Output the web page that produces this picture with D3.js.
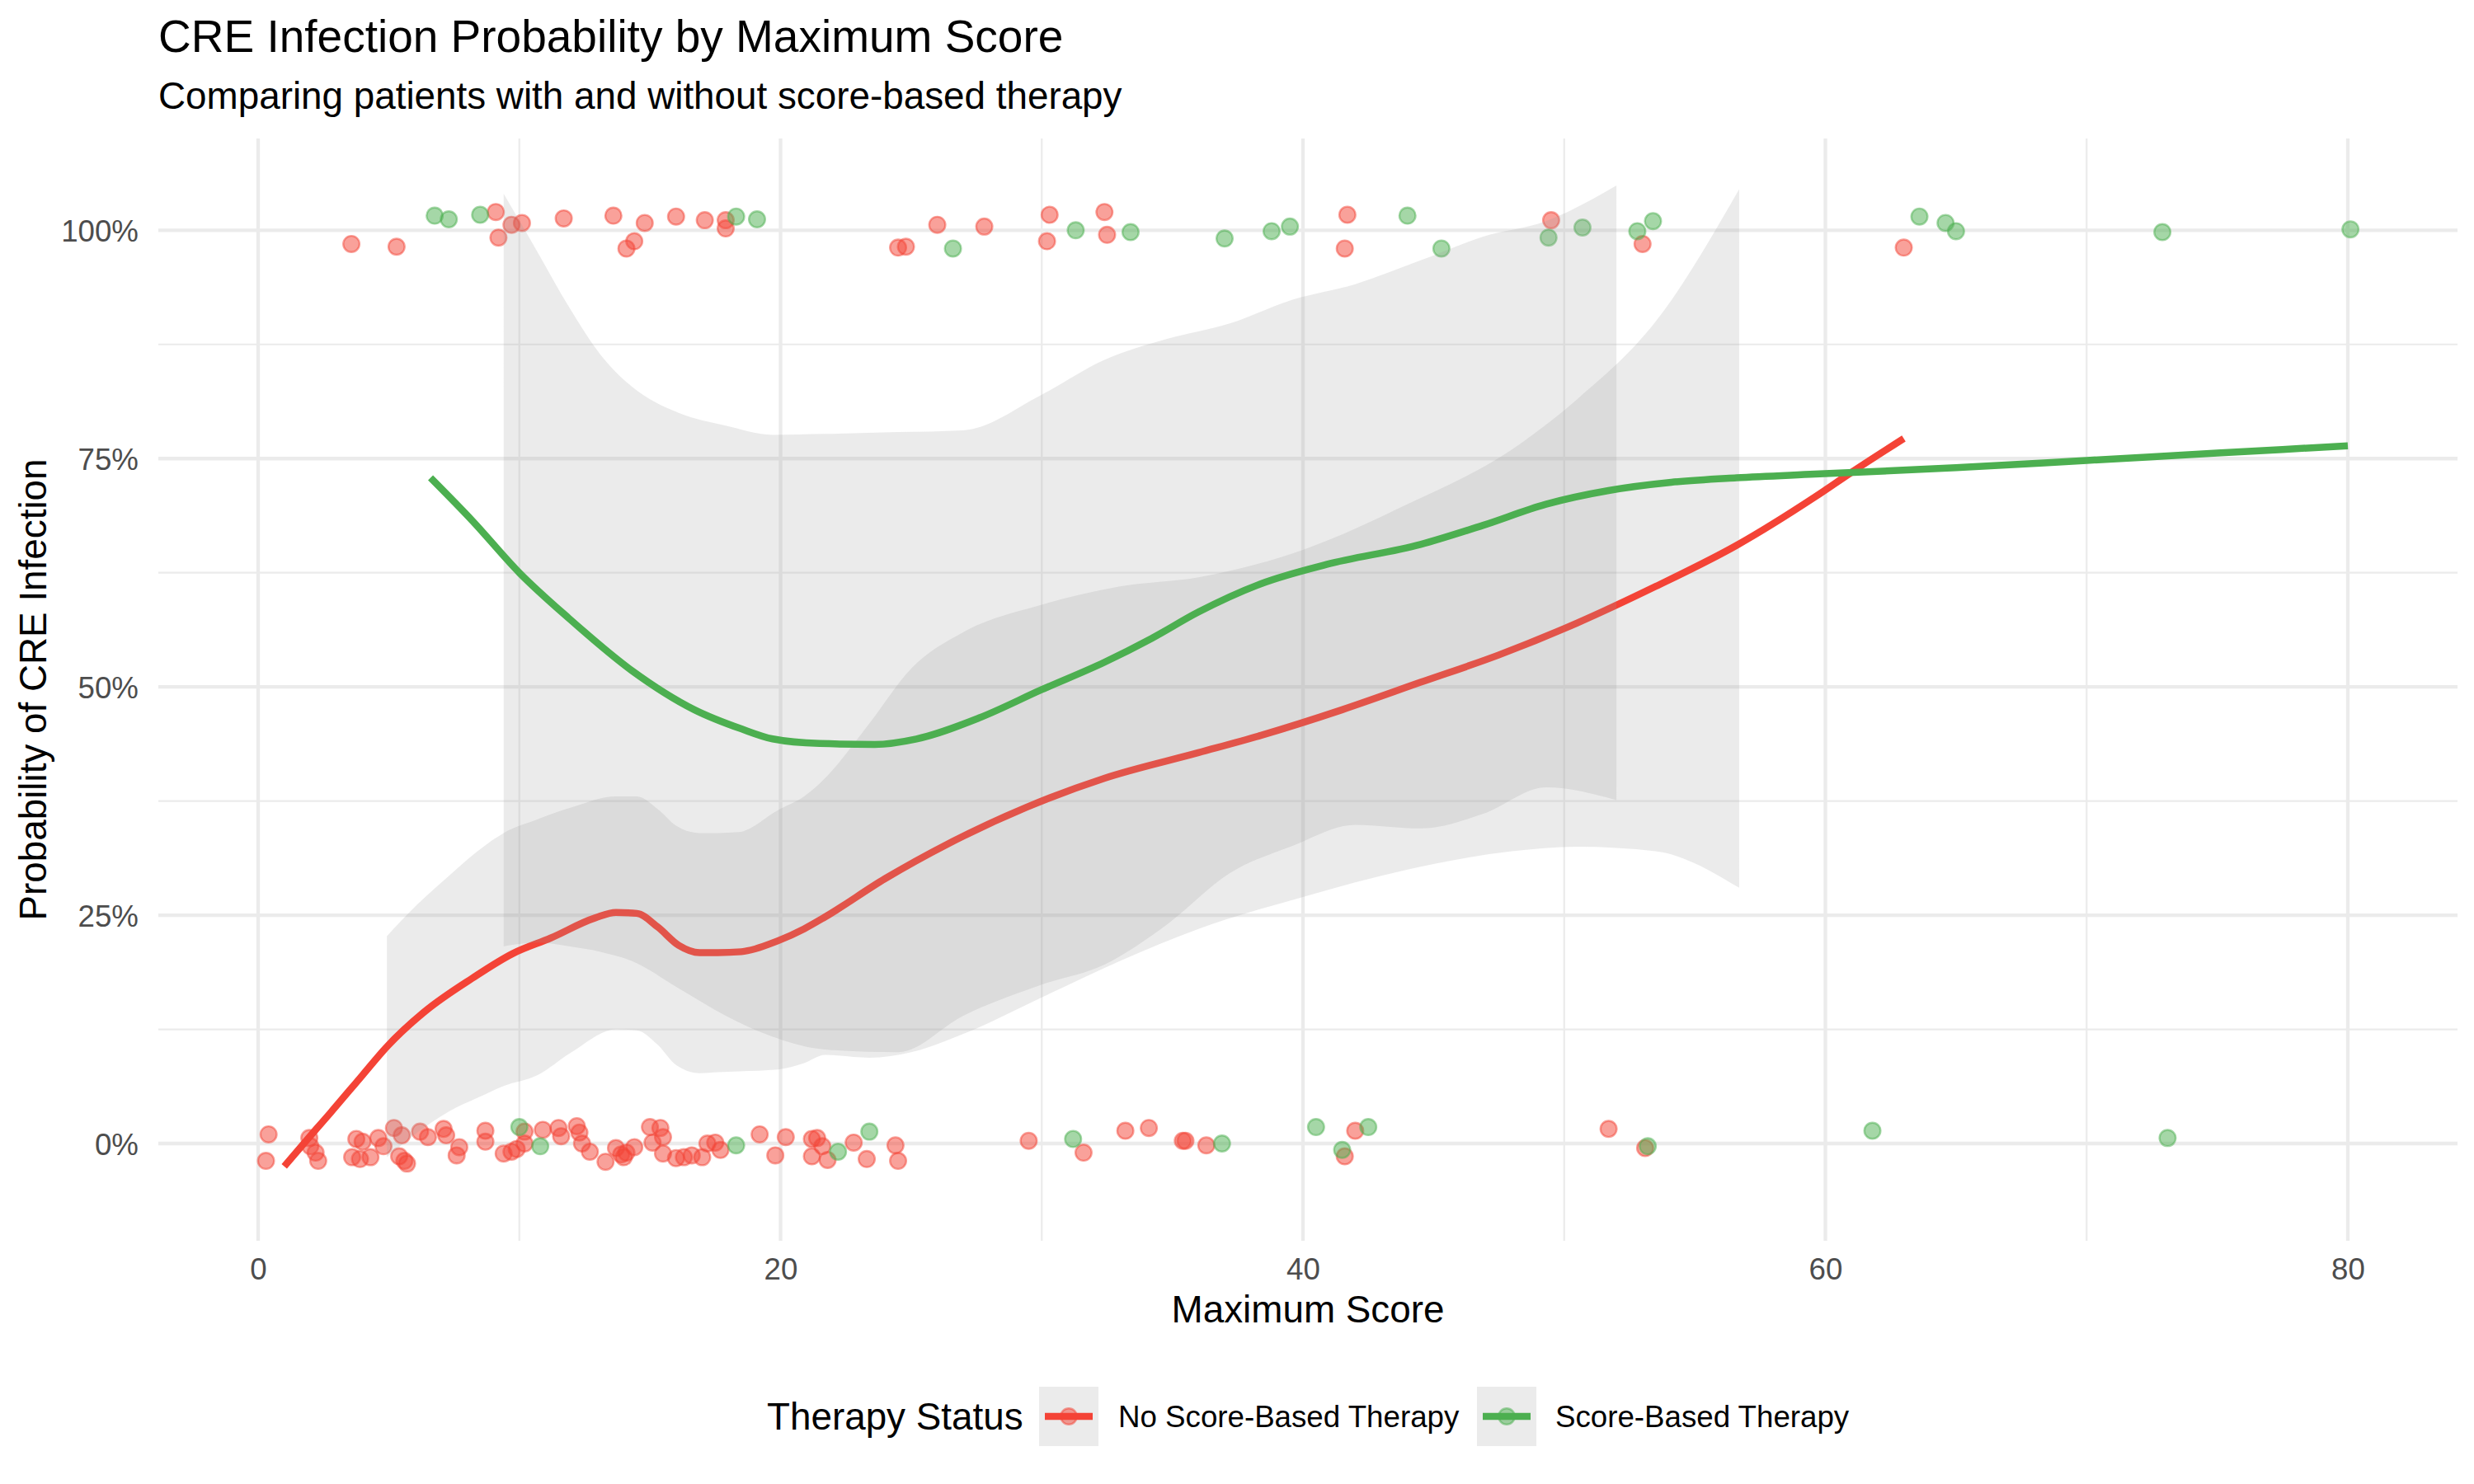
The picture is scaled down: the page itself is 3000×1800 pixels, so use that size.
<!DOCTYPE html>
<html>
<head>
<meta charset="utf-8">
<script src="https://cdn.jsdelivr.net/npm/d3@7"></script>
<style>
  html, body { margin: 0; padding: 0; background: #ffffff; }
  svg { display: block; }
  text { font-family: "Liberation Sans", Arial, Helvetica, sans-serif; }
</style>
</head>
<body>
<svg id="chart" width="3000" height="1800"></svg>
<script>
// ---------------- DATA ----------------
const groups = ["No Score-Based Therapy", "Score-Based Therapy"];
const groupColors = ["#F44336", "#4CAF50"];

const xTicks = [0, 20, 40, 60, 80];
const xMinorTicks = [10, 30, 50, 70];
const yTicks = [0, 0.25, 0.5, 0.75, 1];
const yMinorTicks = [0.125, 0.375, 0.625, 0.875];

// observed points, no score-based therapy (x = max score, y = jittered outcome)
const redPtsX = [3.57,5.3,9.1,9.2,9.7,10.1,11.7,13.6,14.4,14.1,14.8,16.0,17.1,17.9,17.9,24.5,24.8,26.0,27.8,30.2,30.3,32.4,32.5,41.7,41.6,49.5,53.0,63.0,
  0.4,0.3,1.96,2.0,2.2,2.3,3.76,3.6,4.0,3.9,4.3,4.6,4.8,5.2,5.5,5.4,5.6,5.7,6.2,6.5,7.1,7.2,7.6,7.7,8.7,8.7,10.2,9.4,9.7,9.9,10.2,10.9,11.5,11.6,12.2,12.3,12.4,12.7,13.3,13.7,13.9,14.0,14.1,14.4,15.0,15.4,15.5,15.1,15.5,16.0,16.3,16.6,17.0,17.2,17.5,17.7,19.2,19.8,20.2,21.2,21.4,21.6,21.2,21.8,22.8,23.3,24.4,24.5,29.5,31.6,33.2,34.1,35.4,35.5,36.3,42.0,41.6,51.7,53.1];
const redPtsY = [0.985,0.982,1.020,0.992,1.006,1.008,1.013,1.016,0.988,0.980,1.008,1.015,1.011,1.011,1.002,0.981,0.982,1.006,1.004,0.988,1.017,1.020,0.995,1.017,0.980,1.011,0.985,0.981,
  0.010,-0.019,0.006,-0.003,-0.010,-0.019,0.005,-0.015,0.002,-0.017,-0.015,0.006,-0.003,0.017,0.009,-0.014,-0.019,-0.022,0.013,0.007,0.016,0.009,-0.013,-0.004,0.014,0.002,0.013,-0.011,-0.009,-0.006,0.000,0.015,0.017,0.008,0.019,0.012,0.000,-0.009,-0.020,-0.005,-0.012,-0.015,-0.010,-0.004,0.018,0.017,0.007,0.001,-0.011,-0.016,-0.015,-0.013,-0.015,0.000,0.001,-0.007,0.010,-0.013,0.007,0.005,0.006,-0.003,-0.014,-0.018,0.001,-0.017,-0.002,-0.019,0.003,-0.010,0.014,0.017,0.003,0.003,-0.002,0.014,-0.014,0.016,-0.005];

// observed points, score-based therapy
const greenPtsX = [6.76,7.3,8.5,18.3,19.1,26.6,31.3,33.4,37.0,38.8,39.5,44.0,45.3,49.4,50.7,52.8,53.4,63.6,64.6,65.0,72.9,80.1,
  10.0,10.8,18.3,22.2,23.4,31.2,36.9,40.5,42.5,41.5,53.2,61.8,73.1];
const greenPtsY = [1.016,1.012,1.017,1.015,1.012,0.980,1.000,0.998,0.991,0.999,1.004,1.016,0.980,0.992,1.003,0.999,1.010,1.015,1.008,0.999,0.998,1.001,
  0.018,-0.003,-0.002,-0.009,0.013,0.005,0.000,0.018,0.018,-0.007,-0.003,0.014,0.006];

// smoothed fit, no score-based therapy
const redLineX = [1.0,2.2,2.75,4.0,4.93,6.4,8.2,9.75,11.2,12.9,13.7,14.5,15.3,16.1,16.9,17.6,18.5,19.9,20.9,21.7,24.0,26.4,29.4,32.4,36.0,38.4,41.5,44.5,47.5,50.5,53.5,56.6,59.6,61.0,63.0];
const redLineY = [-0.025,0.015,0.033,0.075,0.106,0.145,0.181,0.208,0.225,0.247,0.253,0.252,0.237,0.217,0.209,0.209,0.21,0.222,0.235,0.248,0.29,0.328,0.368,0.40,0.428,0.447,0.475,0.505,0.535,0.57,0.61,0.655,0.708,0.735,0.772];
// confidence band, no score-based therapy
const redBandX = [4.93,6.0,7.3,8.4,9.4,10.7,12.0,13.7,14.5,15.3,16.0,16.9,17.6,18.4,19.9,20.9,21.7,23.4,25.0,27.0,30.0,33.0,36.0,40.0,44.0,48.0,50.5,53.5,56.7];
const redBandLow = [-0.015,0.01,0.035,0.05,0.063,0.075,0.10,0.125,0.124,0.108,0.086,0.077,0.078,0.079,0.081,0.088,0.097,0.094,0.10,0.12,0.16,0.20,0.235,0.27,0.30,0.32,0.325,0.32,0.28];
const redBandHigh = [0.227,0.259,0.293,0.32,0.34,0.355,0.368,0.38,0.38,0.366,0.348,0.34,0.34,0.341,0.365,0.38,0.40,0.46,0.52,0.56,0.59,0.61,0.62,0.65,0.70,0.76,0.815,0.90,1.045];

// smoothed fit, score-based therapy
const greenLineX = [6.6,8.2,10.0,11.9,14.3,16.7,18.5,19.7,21.5,23.6,25.2,27.6,30.0,32.4,34.2,36.0,38.4,40.9,44.5,46.9,49.3,51.7,54.1,56.6,59.6,65.0,70.0,75.0,80.0];
const greenLineY = [0.729,0.682,0.625,0.575,0.518,0.475,0.454,0.443,0.438,0.437,0.443,0.466,0.497,0.527,0.553,0.582,0.613,0.634,0.656,0.677,0.70,0.715,0.724,0.729,0.733,0.740,0.748,0.756,0.764];
// confidence band, score-based therapy
const greenBandX = [9.4,10.7,11.9,13.1,14.3,16.1,17.9,19.7,21.7,24.5,27.0,30.0,32.4,34.8,37.2,39.6,42.0,44.5,46.9,49.3,52.0];
const greenBandLow = [0.216,0.22,0.216,0.21,0.20,0.17,0.14,0.117,0.103,0.10,0.14,0.174,0.196,0.24,0.296,0.326,0.349,0.345,0.361,0.39,0.376];
const greenBandHigh = [1.04,0.976,0.916,0.864,0.829,0.80,0.786,0.776,0.777,0.779,0.781,0.82,0.858,0.881,0.898,0.924,0.941,0.967,0.993,1.01,1.049];

// ---------------- LAYOUT ----------------
const panel = { left: 192, right: 2980, top: 168, bottom: 1505 };
const svg = d3.select("#chart");

const x = d3.scaleLinear().domain([0, 80]).range([313, 2847]);
const y = d3.scaleLinear().domain([0, 1]).range([1387, 279.3]);

// grid
const grid = svg.append("g");
grid.selectAll("line.xminor").data(xMinorTicks).join("line")
  .attr("x1", d => x(d)).attr("x2", d => x(d))
  .attr("y1", panel.top).attr("y2", panel.bottom)
  .attr("stroke", "#ebebeb").attr("stroke-width", 2.2);
grid.selectAll("line.yminor").data(yMinorTicks).join("line")
  .attr("y1", d => y(d)).attr("y2", d => y(d))
  .attr("x1", panel.left).attr("x2", panel.right)
  .attr("stroke", "#ebebeb").attr("stroke-width", 2.2);
grid.selectAll("line.xmajor").data(xTicks).join("line")
  .attr("x1", d => x(d)).attr("x2", d => x(d))
  .attr("y1", panel.top).attr("y2", panel.bottom)
  .attr("stroke", "#ebebeb").attr("stroke-width", 4.3);
grid.selectAll("line.ymajor").data(yTicks).join("line")
  .attr("y1", d => y(d)).attr("y2", d => y(d))
  .attr("x1", panel.left).attr("x2", panel.right)
  .attr("stroke", "#ebebeb").attr("stroke-width", 4.3);

// points
function drawPoints(xs, ys, color) {
  svg.append("g").selectAll("circle").data(d3.range(xs.length)).join("circle")
    .attr("cx", i => x(xs[i])).attr("cy", i => y(ys[i]))
    .attr("r", 9.8)
    .attr("fill", color).attr("fill-opacity", 0.5)
    .attr("stroke", color).attr("stroke-opacity", 0.5).attr("stroke-width", 2.4);
}
drawPoints(redPtsX, redPtsY, groupColors[0]);
drawPoints(greenPtsX, greenPtsY, groupColors[1]);

// smooths: band then line per group
function drawSmooth(bx, lo, hi, lx, ly, color) {
  const area = d3.area()
    .x(i => x(bx[i])).y0(i => y(lo[i])).y1(i => y(hi[i]))
    .curve(d3.curveMonotoneX);
  svg.append("path").datum(d3.range(bx.length)).attr("d", area)
    .attr("fill", "#999999").attr("fill-opacity", 0.2);
  const line = d3.line().x(i => x(lx[i])).y(i => y(ly[i])).curve(d3.curveMonotoneX);
  svg.append("path").datum(d3.range(lx.length)).attr("d", line)
    .attr("fill", "none").attr("stroke", color).attr("stroke-width", 8.5);
}
drawSmooth(redBandX, redBandLow, redBandHigh, redLineX, redLineY, groupColors[0]);
drawSmooth(greenBandX, greenBandLow, greenBandHigh, greenLineX, greenLineY, groupColors[1]);

// axes (labels only)
const xAxis = svg.append("g").attr("transform", `translate(0,${panel.bottom})`)
  .call(d3.axisBottom(x).tickValues(xTicks).tickSize(0).tickPadding(0).tickFormat(d3.format("d")));
xAxis.select(".domain").remove();
xAxis.selectAll("text").attr("y", 0).attr("dy", null)
  .attr("transform", "translate(0,47)")
  .attr("font-size", 36.7).attr("fill", "#4d4d4d")
  .attr("font-family", "Liberation Sans, Arial, sans-serif");

const yAxis = svg.append("g").attr("transform", `translate(168,0)`)
  .call(d3.axisLeft(y).tickValues(yTicks).tickSize(0).tickPadding(0).tickFormat(d3.format(".0%")));
yAxis.select(".domain").remove();
yAxis.selectAll("text").attr("x", 0).attr("dy", "0.36em")
  .attr("font-size", 36.7).attr("fill", "#4d4d4d")
  .attr("font-family", "Liberation Sans, Arial, sans-serif");

// titles
svg.append("text").attr("x", 192).attr("y", 63)
  .attr("font-size", 55).attr("fill", "#000").text("CRE Infection Probability by Maximum Score");
svg.append("text").attr("x", 192).attr("y", 132)
  .attr("font-size", 45.8).attr("fill", "#000").text("Comparing patients with and without score-based therapy");

svg.append("text").attr("x", (panel.left + panel.right) / 2).attr("y", 1604)
  .attr("text-anchor", "middle").attr("font-size", 45.8).attr("fill", "#000").text("Maximum Score");
svg.append("text").attr("transform", `translate(56,${(panel.top + panel.bottom) / 2}) rotate(-90)`)
  .attr("text-anchor", "middle").attr("font-size", 45.8).attr("fill", "#000").text("Probability of CRE Infection");

// legend
const legend = svg.append("g");
legend.append("text").attr("x", 930).attr("y", 1734).attr("font-size", 45.8).attr("fill", "#000").text("Therapy Status");
const keyX = [1260, 1791];
const labelX = [1356, 1886];
groups.forEach((g, i) => {
  legend.append("rect").attr("x", keyX[i]).attr("y", 1682).attr("width", 72).attr("height", 72)
    .attr("fill", "#999999").attr("fill-opacity", 0.2);
  legend.append("circle").attr("cx", keyX[i] + 36).attr("cy", 1718).attr("r", 9.8)
    .attr("fill", groupColors[i]).attr("fill-opacity", 0.5)
    .attr("stroke", groupColors[i]).attr("stroke-opacity", 0.5).attr("stroke-width", 2.4);
  legend.append("line").attr("x1", keyX[i] + 7).attr("x2", keyX[i] + 65)
    .attr("y1", 1718).attr("y2", 1718)
    .attr("stroke", groupColors[i]).attr("stroke-width", 8.5);
  legend.append("text").attr("x", labelX[i]).attr("y", 1731).attr("font-size", 36.7).attr("fill", "#000").text(g);
});
</script>
</body>
</html>
